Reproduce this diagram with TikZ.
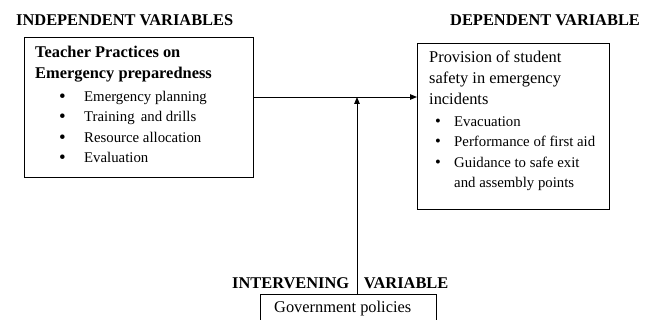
\documentclass[tikz,border=0pt]{standalone}
\usepackage{fontspec}
\setmainfont{Liberation Serif}
\usetikzlibrary{arrows.meta}
\tikzset{
  box/.style={draw=black, line width=0.9pt, anchor=north west, inner sep=0pt},
  head/.style={anchor=base west, inner sep=0pt, font=\fontsize{16.4}{19}\selectfont\bfseries},
  title/.style={anchor=base west, inner sep=0pt, font=\fontsize{16.4}{19}\selectfont},
  btitle/.style={anchor=base west, inner sep=0pt, font=\fontsize{16.4}{19}\selectfont\bfseries},
  item/.style={anchor=base west, inner sep=0pt, font=\fontsize{14.8}{17}\selectfont},
  bul/.style={anchor=base west, inner sep=0pt, font=\fontsize{19}{20}\selectfont},
  rbul/.style={anchor=base west, inner sep=0pt, font=\fontsize{16.5}{18}\selectfont},
  conn/.style={line width=0.9pt, -{Triangle[length=7pt,width=5.5pt]}},
}
\begin{document}
\begin{tikzpicture}[x=1pt,y=-1pt]
\useasboundingbox (0,0) rectangle (659,320);
% headings
\node[head] (hind) at (16,26) {INDEPENDENT VARIABLES};
\node[head] (hdep) at (450,26) {DEPENDENT VARIABLE};
\node[head] (hint) at (232,289) {INTERVENING\hspace{0.9em}VARIABLE};
% boxes
\node[box, minimum width=229pt, minimum height=140pt] (ind) at (24,37) {};
\node[box, minimum width=192pt, minimum height=166pt] (dep) at (417,43) {};
\node[box, minimum width=176pt, minimum height=40pt] (gov) at (260,294) {};
% left box text
\node[btitle] (t1) at (35,58) {Teacher Practices on};
\node[btitle] (t2) at (35,79) {Emergency preparedness};
\node[bul] (b1) at (59,103) {\textbullet};
\node[item] (i1) at (84,102) {Emergency planning};
\node[bul] (b2) at (59,123) {\textbullet};
\node[item] (i2) at (84,122) {Training\, and drills};
\node[bul] (b3) at (59,144) {\textbullet};
\node[item] (i3) at (84,143) {Resource allocation};
\node[bul] (b4) at (59,164) {\textbullet};
\node[item] (i4) at (84,163) {Evaluation};
% right box text
\node[title] (r1) at (429,63) {Provision of student};
\node[title] (r2) at (429,84) {safety in emergency};
\node[title] (r3) at (429,105) {incidents};
\node[rbul] (rb1) at (435,127) {\textbullet};
\node[item] (ri1) at (454,127) {Evacuation};
\node[rbul] (rb2) at (435,147) {\textbullet};
\node[item] (ri2) at (454,147) {Performance of first aid};
\node[rbul] (rb3) at (435,168) {\textbullet};
\node[item] (ri3) at (454,168) {Guidance to safe exit};
\node[item] (ri4) at (454,188) {and assembly points};
% bottom box text
\node[title] (g1) at (274,313) {Government policies};
% connectors
\coordinate (hs) at (253,97);
\coordinate (vs) at (357,294);
\coordinate (ve) at (357,97);
\draw[conn] (hs) -- (hs -| dep.west);
\draw[conn] (vs) -- (ve);
\end{tikzpicture}
\end{document}
